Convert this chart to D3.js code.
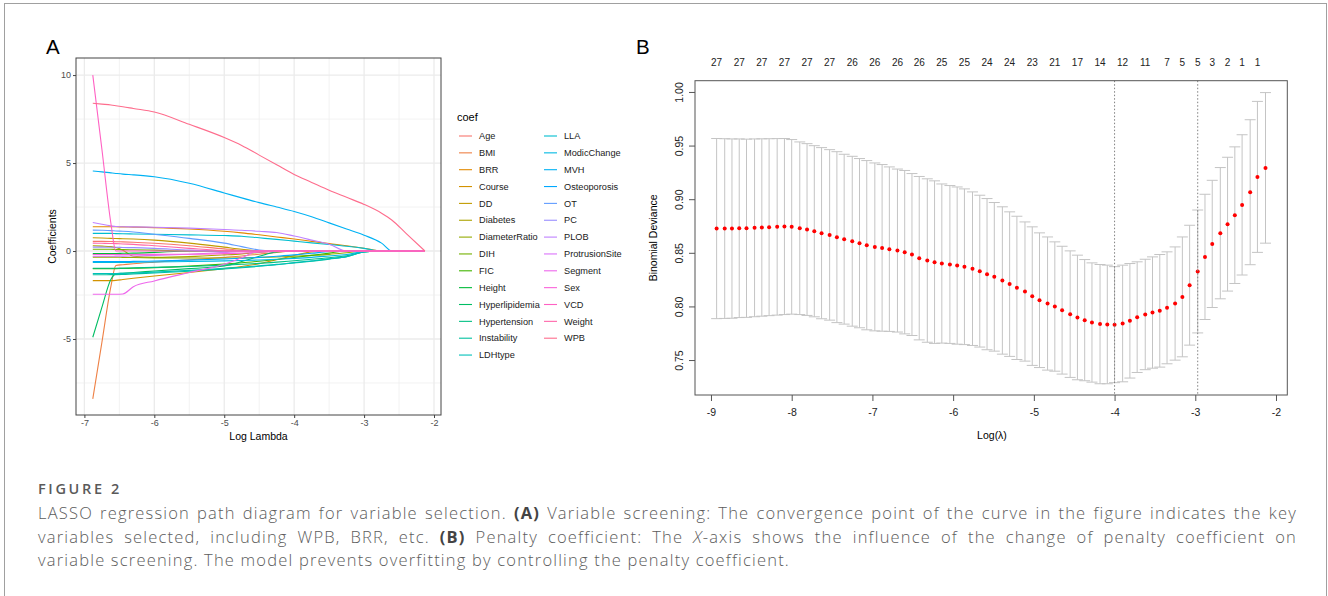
<!DOCTYPE html>
<html>
<head>
<meta charset="utf-8">
<script src="https://cdnjs.cloudflare.com/ajax/libs/d3/7.8.5/d3.min.js"></script>
<style>
  body { margin: 0; background: #fff; }
  svg { display: block; }
</style>
</head>
<body>
<script>
// ---------- data: panel A (coefficient paths) ----------
const lambdaA = [-6.88, -6.75, -6.62, -6.55, -6.45, -6.3, -6.0, -5.5, -5.0, -4.75, -4.5,
                 -4.25, -4.0, -3.75, -3.5, -3.25, -3.0, -2.75, -2.6, -2.4, -2.13];

const coefNames = ["Age", "BMI", "BRR", "Course", "DD", "Diabetes", "DiameterRatio", "DIH", "FIC",
  "Height", "Hyperlipidemia", "Hypertension", "Instability", "LDHtype", "LLA", "ModicChange", "MVH",
  "Osteoporosis", "OT", "PC", "PLOB", "ProtrusionSite", "Segment", "Sex", "VCD", "Weight", "WPB"];

const coefPaths = [
  [0.55, 0.55, 0.54, 0.53, 0.52, 0.5, 0.44, 0.3, 0.12, 0.04, 0, 0, 0, 0, 0, 0, 0, 0, 0, 0, 0],         // Age
  [-8.4, -5.2, -2.0, -0.82, -0.78, -0.72, -0.63, -0.5, -0.36, -0.28, -0.18, -0.08, 0, 0, 0, 0, 0, 0, 0, 0, 0], // BMI
  [1.38, 1.38, 1.38, 1.38, 1.37, 1.36, 1.33, 1.25, 1.12, 1.03, 0.92, 0.8, 0.68, 0.55, 0.42, 0.3, 0.16, 0, 0, 0, 0], // BRR
  [-1.68, -1.68, -1.68, -1.67, -1.62, -1.55, -1.42, -1.22, -1.0, -0.88, -0.72, -0.5, -0.25, -0.05, 0, 0, 0, 0, 0, 0, 0], // Course
  [0.75, 0.74, 0.72, 0.71, 0.7, 0.68, 0.62, 0.45, 0.22, 0.1, 0, 0, 0, 0, 0, 0, 0, 0, 0, 0, 0],         // DD
  [0.3, 0.28, 0.25, 0.2, 0.05, -0.3, -0.36, -0.32, -0.22, -0.16, -0.08, 0, 0, 0, 0, 0, 0, 0, 0, 0, 0],  // Diabetes
  [-0.35, -0.35, -0.35, -0.35, -0.36, -0.37, -0.39, -0.4, -0.4, -0.39, -0.37, -0.34, -0.3, -0.25, -0.19, -0.1, 0, 0, 0, 0, 0], // DiameterRatio
  [0.1, 0.1, 0.1, 0.09, 0.08, 0.07, 0.05, 0, 0, 0, 0, 0, 0, 0, 0, 0, 0, 0, 0, 0, 0],                   // DIH
  [-1.0, -1.0, -1.0, -1.0, -0.99, -0.98, -0.95, -0.86, -0.74, -0.67, -0.58, -0.48, -0.37, -0.25, -0.12, 0, 0, 0, 0, 0, 0], // FIC
  [-0.15, -0.15, -0.14, -0.14, -0.13, -0.12, -0.08, 0, 0, 0, 0, 0, 0, 0, 0, 0, 0, 0, 0, 0, 0],          // Height
  [-4.9, -3.2, -1.6, -1.3, -1.26, -1.22, -1.14, -1.0, -0.85, -0.6, -0.3, -0.05, 0, 0, 0, 0, 0, 0, 0, 0, 0], // Hyperlipidemia
  [-0.98, -0.98, -0.98, -0.98, -0.97, -0.96, -0.93, -0.88, -0.8, -0.75, -0.7, -0.63, -0.55, -0.47, -0.38, -0.27, -0.05, 0, 0, 0, 0], // Hypertension
  [-1.35, -1.35, -1.34, -1.34, -1.33, -1.3, -1.25, -1.15, -1.02, -0.95, -0.87, -0.78, -0.68, -0.58, -0.46, -0.33, -0.05, 0, 0, 0, 0], // Instability
  [-1.28, -1.28, -1.28, -1.28, -1.27, -1.25, -1.2, -1.1, -0.98, -0.92, -0.84, -0.76, -0.66, -0.56, -0.44, -0.32, -0.06, 0, 0, 0, 0], // LDHtype
  [1.0, 1.0, 1.0, 0.99, 0.98, 0.97, 0.95, 0.92, 0.88, 0.84, 0.75, 0.66, 0.56, 0.46, 0.37, 0.27, 0.15, 0, 0, 0, 0], // LLA
  [-0.65, -0.65, -0.65, -0.65, -0.65, -0.64, -0.62, -0.6, -0.56, -0.54, -0.51, -0.47, -0.42, -0.36, -0.28, -0.2, -0.03, 0, 0, 0, 0], // ModicChange
  [4.55, 4.5, 4.44, 4.41, 4.37, 4.33, 4.22, 3.85, 3.3, 3.02, 2.75, 2.5, 2.25, 1.95, 1.6, 1.25, 0.9, 0.45, 0, 0, 0], // MVH
  [-0.6, -0.6, -0.6, -0.6, -0.6, -0.59, -0.57, -0.52, -0.45, -0.41, -0.36, -0.3, -0.22, -0.13, -0.03, 0, 0, 0, 0, 0, 0], // Osteoporosis
  [1.19, 1.18, 1.16, 1.14, 1.12, 1.08, 0.95, 0.72, 0.45, 0.25, 0.06, 0, 0, 0, 0, 0, 0, 0, 0, 0, 0],     // OT
  [0.22, 0.22, 0.21, 0.21, 0.2, 0.19, 0.15, 0.05, 0, 0, 0, 0, 0, 0, 0, 0, 0, 0, 0, 0, 0],               // PC
  [1.62, 1.52, 1.43, 1.39, 1.38, 1.37, 1.35, 1.3, 1.22, 1.18, 1.12, 1.05, 0.85, 0.62, 0.38, 0, 0, 0, 0, 0, 0], // PLOB
  [-0.3, -0.3, -0.3, -0.29, -0.29, -0.28, -0.25, -0.18, -0.08, -0.03, 0, 0, 0, 0, 0, 0, 0, 0, 0, 0, 0],  // ProtrusionSite
  [-2.46, -2.46, -2.46, -2.46, -2.44, -2.03, -1.7, -1.22, -0.75, -0.38, 0, 0, 0, 0, 0, 0, 0, 0, 0, 0, 0], // Segment
  [-0.2, -0.2, -0.2, -0.2, -0.2, -0.2, -0.19, -0.18, -0.15, -0.12, -0.07, -0.02, 0, 0, 0, 0, 0, 0, 0, 0, 0], // Sex
  [10, 5.8, 1.55, 0, 0, 0, 0, 0, 0, 0, 0, 0, 0, 0, 0, 0, 0, 0, 0, 0, 0],                                // VCD
  [0.45, 0.44, 0.43, 0.42, 0.4, 0.38, 0.3, 0.15, 0.02, 0, 0, 0, 0, 0, 0, 0, 0, 0, 0, 0, 0],             // Weight
  [8.4, 8.35, 8.3, 8.26, 8.2, 8.1, 7.9, 7.2, 6.45, 6.0, 5.45, 4.9, 4.35, 3.9, 3.45, 3.05, 2.65, 2.15, 1.75, 1.0, 0] // WPB
];

const xTicksA = [-7, -6, -5, -4, -3, -2];
const yTicksA = [-5, 0, 5, 10];

// ---------- data: panel B (cross-validation) ----------
const lambdaB = [-8.93, -8.83, -8.74, -8.65, -8.56, -8.46, -8.37, -8.28, -8.18, -8.09,
  -8.00, -7.90, -7.81, -7.72, -7.63, -7.53, -7.44, -7.35, -7.25, -7.16,
  -7.07, -6.97, -6.88, -6.79, -6.69, -6.60, -6.51, -6.42, -6.32, -6.23,
  -6.14, -6.04, -5.95, -5.86, -5.76, -5.67, -5.58, -5.49, -5.39, -5.30,
  -5.21, -5.11, -5.02, -4.93, -4.83, -4.74, -4.65, -4.55, -4.46, -4.37,
  -4.28, -4.18, -4.09, -4.00, -3.90, -3.81, -3.72, -3.62, -3.53, -3.44,
  -3.35, -3.25, -3.16, -3.07, -2.97, -2.88, -2.79, -2.69, -2.60, -2.51,
  -2.42, -2.32, -2.23, -2.13];

const cvMean = [0.8726, 0.8726, 0.8726, 0.8729, 0.8729, 0.8733, 0.8736, 0.8739, 0.8742, 0.8745,
  0.8742, 0.8729, 0.8717, 0.8701, 0.8683, 0.8667, 0.8646, 0.8627, 0.8608, 0.8590,
  0.8571, 0.8555, 0.8546, 0.8534, 0.8521, 0.8506, 0.8484, 0.8450, 0.8428, 0.8413,
  0.8400, 0.8391, 0.8381, 0.8370, 0.8352, 0.8329, 0.8301, 0.8276, 0.8242, 0.8208,
  0.8173, 0.8139, 0.8096, 0.8058, 0.8027, 0.7999, 0.7965, 0.7928, 0.7897, 0.7872,
  0.7850, 0.7835, 0.7832, 0.7830, 0.7841, 0.7866, 0.7900, 0.7925, 0.7943, 0.7959,
  0.7987, 0.8027, 0.8089, 0.8198, 0.8326, 0.8462, 0.8583, 0.8683, 0.8767, 0.8851,
  0.8947, 0.9065, 0.9208, 0.9292];

const cvSd = [0.0840, 0.0838, 0.0836, 0.0833, 0.0831, 0.0829, 0.0827, 0.0825, 0.0823, 0.0821,
  0.0814, 0.0805, 0.0801, 0.0798, 0.0798, 0.0795, 0.0797, 0.0792, 0.0792, 0.0789,
  0.0789, 0.0783, 0.0777, 0.0767, 0.0760, 0.0762, 0.0755, 0.0762, 0.0762, 0.0758,
  0.0742, 0.0736, 0.0733, 0.0726, 0.0716, 0.0708, 0.0705, 0.0693, 0.0687, 0.0674,
  0.0668, 0.0649, 0.0646, 0.0628, 0.0621, 0.0603, 0.0596, 0.0590, 0.0581, 0.0565,
  0.0556, 0.0556, 0.0553, 0.0541, 0.0544, 0.0534, 0.0516, 0.0515, 0.0519, 0.0525,
  0.0522, 0.0528, 0.0559, 0.0559, 0.0573, 0.0584, 0.0593, 0.0612, 0.0624, 0.0637,
  0.0654, 0.0676, 0.0704, 0.0702];

// nonzero counts printed along the top, at these lambda indices
const nzIndex = [0, 3, 6, 9, 12, 15, 18, 21, 24, 27, 30, 33, 36, 39, 42, 45, 48, 51, 54, 57, 60,
                 62, 64, 66, 68, 70, 72];
const nzLabels = ["27", "27", "27", "27", "27", "27", "26", "26", "26", "26", "25", "25", "24", "24",
                  "23", "21", "17", "14", "12", "11", "7", "5", "5", "3", "2", "1", "1"];
const minIndex = 53;   // lambda.min
const seIndex = 64;    // lambda.1se

const xTicksB = [-9, -8, -7, -6, -5, -4, -3, -2];
const yTicksB = [0.75, 0.80, 0.85, 0.90, 0.95, 1.00];

// ---------- helpers ----------
// ggplot's default hue palette: polarLUV(l=65, c=100) -> sRGB
function hueColor(h) {
  const L = 65, C = 100;
  const hr = h * Math.PI / 180;
  const U = C * Math.cos(hr), V = C * Math.sin(hr);
  const Xn = 95.047, Yn = 100, Zn = 108.883;
  const un = 4 * Xn / (Xn + 15 * Yn + 3 * Zn), vn = 9 * Yn / (Xn + 15 * Yn + 3 * Zn);
  const Y = Yn * Math.pow((L + 16) / 116, 3);
  const u = U / (13 * L) + un, v = V / (13 * L) + vn;
  const X = 9 * Y * u / (4 * v);
  const Z = -X / 3 - 5 * Y + 3 * Y / v;
  const x = X / 100, y = Y / 100, z = Z / 100;
  const lin = [3.240479 * x - 1.537150 * y - 0.498535 * z,
               -0.969256 * x + 1.875992 * y + 0.041556 * z,
               0.055648 * x - 0.204043 * y + 1.057311 * z];
  const g = lin.map(c => {
    const s = c <= 0.0031308 ? 12.92 * c : 1.055 * Math.pow(c, 1 / 2.4) - 0.055;
    return Math.round(255 * Math.max(0, Math.min(1, s)));
  });
  return d3.rgb(g[0], g[1], g[2]).formatHex();
}
const nCoef = coefNames.length;
const colors = coefNames.map((d, i) => hueColor(15 + i * 360 / nCoef));

const sans = "'Liberation Sans', Arial, sans-serif";
const plain = d => String(d);   // hyphen-minus, like R

const svg = d3.select("body").append("svg")
  .attr("width", 1328).attr("height", 596)
  .style("font-family", sans);

svg.append("rect").attr("width", 1328).attr("height", 596).attr("fill", "#fff");
// outer frame
svg.append("rect").attr("x", 4.5).attr("y", 3.5).attr("width", 1322).attr("height", 640)
  .attr("fill", "none").attr("stroke", "#a0a0a0");

// ================= Panel A =================
const pA = {left: 76, right: 441, top: 58, bottom: 415};
const xA = d3.scaleLinear().domain([-7.12, -1.9]).range([pA.left, pA.right]);
const yA = d3.scaleLinear().domain([-9.32, 10.97]).range([pA.bottom, pA.top]);

svg.append("text").attr("x", 46).attr("y", 54).attr("font-size", 20.5).text("A");

const gA = svg.append("g");
const minorX = [-6.5, -5.5, -4.5, -3.5, -2.5];
const minorY = [-7.5, -2.5, 2.5, 7.5];
gA.selectAll(".mx").data(minorX).join("line")
  .attr("x1", d => xA(d)).attr("x2", d => xA(d)).attr("y1", pA.top).attr("y2", pA.bottom)
  .attr("stroke", "#efefef").attr("stroke-width", 0.8);
gA.selectAll(".my").data(minorY).join("line")
  .attr("y1", d => yA(d)).attr("y2", d => yA(d)).attr("x1", pA.left).attr("x2", pA.right)
  .attr("stroke", "#efefef").attr("stroke-width", 0.8);
gA.selectAll(".Mx").data(xTicksA).join("line")
  .attr("x1", d => xA(d)).attr("x2", d => xA(d)).attr("y1", pA.top).attr("y2", pA.bottom)
  .attr("stroke", "#ebebeb").attr("stroke-width", 1.3);
gA.selectAll(".My").data(yTicksA).join("line")
  .attr("y1", d => yA(d)).attr("y2", d => yA(d)).attr("x1", pA.left).attr("x2", pA.right)
  .attr("stroke", "#ebebeb").attr("stroke-width", 1.3);

const lineA = d3.line().x((d, i) => xA(lambdaA[i])).y(d => yA(d)).curve(d3.curveMonotoneX);
gA.selectAll(".path").data(coefPaths).join("path")
  .attr("d", lineA).attr("fill", "none")
  .attr("stroke", (d, i) => colors[i]).attr("stroke-width", 1.1);

gA.append("rect").attr("x", pA.left).attr("y", pA.top)
  .attr("width", pA.right - pA.left).attr("height", pA.bottom - pA.top)
  .attr("fill", "none").attr("stroke", "#444").attr("stroke-width", 1);

const axA = svg.append("g").attr("transform", `translate(0,${pA.bottom})`)
  .call(d3.axisBottom(xA).tickValues(xTicksA).tickFormat(plain).tickSize(3).tickPadding(2).tickSizeOuter(0));
const ayA = svg.append("g").attr("transform", `translate(${pA.left},0)`)
  .call(d3.axisLeft(yA).tickValues(yTicksA).tickFormat(plain).tickSize(3).tickPadding(2).tickSizeOuter(0));
[axA, ayA].forEach(a => {
  a.select(".domain").remove();
  a.selectAll("line").attr("stroke", "#444");
  a.selectAll("text").attr("fill", "#4d4d4d").attr("font-size", 9).attr("font-family", sans);
});

svg.append("text").attr("x", (pA.left + pA.right) / 2).attr("y", 440)
  .attr("text-anchor", "middle").attr("font-size", 10.5).text("Log Lambda");
svg.append("text").attr("transform", `translate(56,${(pA.top + pA.bottom) / 2}) rotate(-90)`)
  .attr("text-anchor", "middle").attr("font-size", 10.5).text("Coefficients");

// legend
const leg = svg.append("g");
leg.append("text").attr("x", 457).attr("y", 121).attr("font-size", 11).text("coef");
const perCol = 14;
const legItems = leg.selectAll(".li").data(coefNames).join("g")
  .attr("transform", (d, i) => {
    const col = Math.floor(i / perCol), row = i % perCol;
    return `translate(${459 + col * 85},${136 + row * 16.85})`;
  });
legItems.append("line").attr("x1", 0).attr("x2", 13)
  .attr("stroke", (d, i) => colors[i]).attr("stroke-width", 1.1);
legItems.append("text").attr("x", 20).attr("dy", "0.35em")
  .attr("font-size", 9.2).attr("fill", "#1a1a1a").text(d => d);

// ================= Panel B =================
const pB = {left: 695, right: 1287.3, top: 80.7, bottom: 395};
const xB = d3.scaleLinear().domain([-9.198, -1.86]).range([pB.left, pB.right]);
const yB = d3.scaleLinear().domain([0.7174, 1.0105]).range([pB.bottom, pB.top]);

svg.append("text").attr("x", 636).attr("y", 54).attr("font-size", 20.5).text("B");

const gB = svg.append("g");
const capW = 0.068;
const bars = gB.selectAll(".eb").data(lambdaB).join("g").attr("stroke", "#c4c4c4").attr("stroke-width", 1);
bars.append("line")
  .attr("x1", d => xB(d)).attr("x2", d => xB(d))
  .attr("y1", (d, i) => yB(cvMean[i] + cvSd[i])).attr("y2", (d, i) => yB(cvMean[i] - cvSd[i]));
bars.append("line")
  .attr("x1", d => xB(d - capW)).attr("x2", d => xB(d + capW))
  .attr("y1", (d, i) => yB(cvMean[i] + cvSd[i])).attr("y2", (d, i) => yB(cvMean[i] + cvSd[i]));
bars.append("line")
  .attr("x1", d => xB(d - capW)).attr("x2", d => xB(d + capW))
  .attr("y1", (d, i) => yB(cvMean[i] - cvSd[i])).attr("y2", (d, i) => yB(cvMean[i] - cvSd[i]));

gB.selectAll(".pt").data(lambdaB).join("circle")
  .attr("cx", d => xB(d)).attr("cy", (d, i) => yB(cvMean[i])).attr("r", 2).attr("fill", "#ff0000");

gB.selectAll(".vl").data([lambdaB[minIndex], lambdaB[seIndex]]).join("line")
  .attr("x1", d => xB(d)).attr("x2", d => xB(d)).attr("y1", pB.top).attr("y2", pB.bottom)
  .attr("stroke", "#808080").attr("stroke-width", 1).attr("stroke-dasharray", "1.5,2");

gB.append("rect").attr("x", pB.left).attr("y", pB.top)
  .attr("width", pB.right - pB.left).attr("height", pB.bottom - pB.top)
  .attr("fill", "none").attr("stroke", "#555").attr("stroke-width", 1);

const axB = svg.append("g").attr("transform", `translate(0,${pB.bottom})`)
  .call(d3.axisBottom(xB).tickValues(xTicksB).tickSize(6).tickPadding(8).tickSizeOuter(0).tickFormat(plain));
const ayB = svg.append("g").attr("transform", `translate(${pB.left},0)`)
  .call(d3.axisLeft(yB).tickValues(yTicksB).tickSize(6).tickSizeOuter(0).tickFormat(d => d.toFixed(2)));
[axB, ayB].forEach(a => {
  a.select(".domain").remove();
  a.selectAll("line").attr("stroke", "#555");
  a.selectAll("text").attr("fill", "#222").attr("font-size", 10.5).attr("font-family", sans);
});
ayB.selectAll("text")
  .attr("transform", "rotate(-90)").attr("x", 0).attr("y", -16).attr("dy", "0.35em")
  .attr("text-anchor", "middle");

// nonzero counts on top
svg.append("g").selectAll("text").data(nzIndex).join("text")
  .attr("x", d => xB(lambdaB[d])).attr("y", 65.5)
  .attr("text-anchor", "middle").attr("font-size", 10).attr("fill", "#222")
  .text((d, i) => nzLabels[i]);

svg.append("text").attr("x", 992).attr("y", 439)
  .attr("text-anchor", "middle").attr("font-size", 10.5).text("Log(\u03bb)");
svg.append("text").attr("transform", `translate(657,${(pB.top + pB.bottom) / 2}) rotate(-90)`)
  .attr("text-anchor", "middle").attr("font-size", 10.5).text("Binomial Deviance");

// ================= Caption =================
const capFont = "'Open Sans', 'Noto Sans', sans-serif";
const fig = svg.append("text").attr("x", 38).attr("y", 493.5)
  .attr("font-family", capFont).attr("font-size", 14.5).attr("font-weight", 600)
  .attr("fill", "#5a5a5a").text("FIGURE 2");
{
  const w = fig.node().getComputedTextLength();
  fig.attr("letter-spacing", Math.max(0, (84 - w) / 8));
}

const capLines = [
  [["LASSO regression path diagram for variable selection. ", ""], ["(A)", "b"],
   [" Variable screening: The convergence point of the curve in the figure indicates the key", ""]],
  [["variables selected, including WPB, BRR, etc. ", ""], ["(B)", "b"],
   [" Penalty coefficient: The ", ""], ["X", "i"],
   ["-axis shows the influence of the change of penalty coefficient on", ""]],
  [["variable screening. The model prevents overfitting by controlling the penalty coefficient.", ""]]
];
const capLeft = 38, capRight = 1297, lastLineWidth = 752;
const capTexts = capLines.map((parts, li) => {
  const t = svg.append("text").attr("x", capLeft).attr("y", 519 + li * 23.6)
    .attr("font-family", capFont).attr("font-size", 16.5).attr("font-weight", 300)
    .attr("fill", "#5c5c5c").attr("xml:space", "preserve");
  parts.forEach(p => {
    const s = t.append("tspan").text(p[0]);
    if (p[1] === "b") s.attr("font-weight", 700).attr("fill", "#444");
    if (p[1] === "i") s.attr("font-style", "italic");
  });
  return t;
});
// letter spacing fitted to the ragged last line, then justify the others
const last = capTexts[capTexts.length - 1];
const lastStr = capLines[capLines.length - 1].map(p => p[0]).join("");
const ls = (lastLineWidth - last.node().getComputedTextLength()) / lastStr.length;
capTexts.forEach((t, li) => {
  t.attr("letter-spacing", ls);
  if (li < capTexts.length - 1) {
    const w = t.node().getComputedTextLength();
    const spaces = capLines[li].map(p => p[0]).join("").split(" ").length - 1;
    t.attr("word-spacing", Math.max(0, (capRight - capLeft - w) / spaces));
  }
});
</script>
</body>
</html>
